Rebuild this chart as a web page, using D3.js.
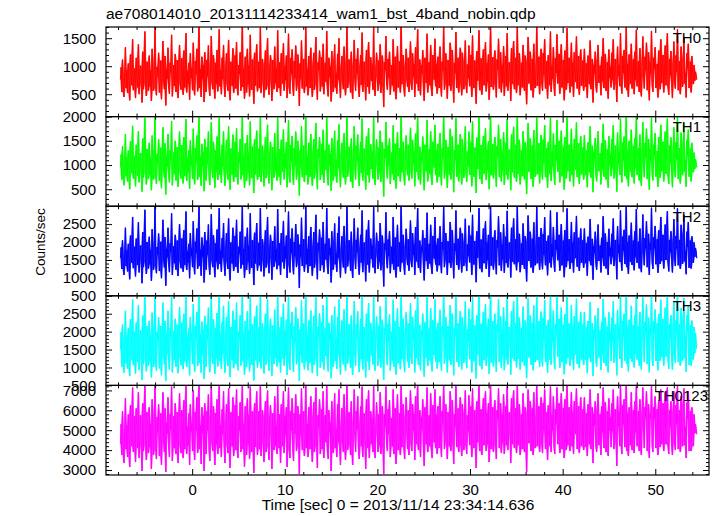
<!DOCTYPE html>
<html><head><meta charset="utf-8">
<script src="https://cdn.jsdelivr.net/npm/d3@7"></script>
<style>
body{margin:0;background:#fff}
svg{display:block}
text{font-family:"Liberation Sans",Arial,Helvetica,sans-serif;fill:#000}
</style>
</head><body><svg id="c" width="717" height="516"></svg>
<script>
const title = "ae708014010_20131114233414_wam1_bst_4band_nobin.qdp";
const xLabel = "Time [sec] 0 = 2013/11/14 23:34:14.636";
const yLabel = "Counts/sec";
const panelNames = ["TH0","TH1","TH2","TH3","TH0123"];
const panelColors = ["#ff0000","#00ff00","#0000ff","#00ffff","#ff00ff"];
const yDomains = [[100,1700],[150,2000],[500,3000],[500,3000],[2750,7250]];
const yMajor = [[500,1000,1500],[500,1000,1500,2000],[500,1000,1500,2000,2500],[500,1000,1500,2000,2500],[3000,4000,5000,6000,7000]];
const yMinorStep = [100,100,100,100,200];
const xDomain = [-9.3, 55.8];
const xMajor = [0,10,20,30,40,50];
const xMinorStep = 2;
const tStart = -7.75, tEnd = 54.5;

const th0 = [
760,980,540,1120,690,450,870,1340,610,930,520,1050,780,390,1210,840,660,1480,570,720,960,430,1150,810,620,1390,500,880,1010,700,350,1260,590,940,1620,680,470,1080,830,560,
1190,640,920,380,1310,750,560,1030,1700,610,480,990,820,1240,530,690,1100,410,870,1450,720,590,1180,300,950,780,1330,620,510,1060,880,1560,460,740,1020,650,1220,540,830,1110,
430,970,1380,700,580,1140,850,490,1280,620,760,1590,530,910,680,1060,400,1230,790,960,570,1420,710,480,1090,860,1310,550,670,1750,610,940,450,1170,780,1020,360,1250,690,540,
1110,820,1370,600,470,1000,1540,730,590,1200,880,420,1060,690,1290,550,810,1660,640,930,500,1150,770,1380,620,450,980,1230,700,560,1470,830,390,1080,910,650,1320,520,760,1190,
600,1430,710,480,1020,860,1250,560,690,1810,630,950,420,1170,790,530,1310,680,1010,460,1560,740,580,1120,890,330,1240,650,970,1390,550,800,1080,610,1690,520,880,1130,720,440,
1020,1280,580,850,1500,660,490,990,1200,740,380,1110,830,590,1350,700,960,540,1640,800,610,1070,470,1230,880,690,1410,560,1000,750,1190,430,920,1580,640,510,1140,860,1300,620,
470,1090,790,1370,560,680,1210,920,290,1050,770,1460,600,890,1130,520,730,1710,640,950,480,1180,840,610,1330,710,450,1010,1240,580,860,1520,680,400,1070,930,1280,550,790,1160,
640,1400,500,870,1060,720,1630,590,460,1150,810,990,370,1270,700,540,1090,1390,620,880,510,1220,760,1500,660,430,970,1180,730,590,1350,850,480,1040,1780,610,720,1120,900,530,
1260,690,420,1010,1470,780,560,1130,870,1320,600,450,990,1200,670,1600,540,830,1080,710,390,1290,920,630,1430,510,800,1160,740,1030,580,1700,650,470,950,1240,820,560,1100,690,
1390,520,880,1190,640,270,1070,930,1540,700,580,1130,800,1260,490,720,1020,660,1480,550,910,1170,410,840,1360,620,740,1090,530,1820,680,850,1200,590,460,1010,1310,770,630,1150,
540,960,1440,710,580,1230,820,1030,450,1340,690,900,1660,560,760,1120,480,1010,870,1290,620,380,1150,940,700,1580,530,820,1070,660,1380,590,470,1200,910,760,1490,640,1040,510,
1170,800,610,1350,720,460,1080,920,1720,580,690,1230,850,420,1110,1000,650,1420,560,780,1290,690,350,1060,880,1610,610,740,1150,530,960,1330,700,480,1240,820,590,1090,1460,670,
520,1030,790,1370,640,890,1200,450,1550,700,610,1100,860,330,1270,740,980,1640,570,830,1140,490,910,1300,660,780,1430,550,1050,720,1210,400,870,1740,630,990,1160,580,760,1280,
690,440,1120,940,1490,600,810,1250,530,1020,710,1360,470,880,1180,640,1590,560,740,1070,920,380,1320,680,1010,1450,590,820,1150,520,1700,660,900,1230,480,770,1060,620,1380,730,
560,1190,870,320,1080,1520,690,930,1260,570,800,1130,440,1400,720,610,1000,1770,650,850,1170,500,960,1310,700,560,1230,840,1480,600,730,1090,420,1200,920,660,1620,540,1010,780,
1340,630,470,1140,880,1570,690,790,1220,510,1000,1390,620,860,1110,390,1280,740,580,1680,700,940,1150,530,830,1420,640,1060,450,1250,890,720,1530,600,980,1180,490,870,1300,650,
740,1100,560,1310,820,630,1050,430,1190,900,680,1460,590,780,1130,350,1020,870,1260,640,530,1090,1380,700,820,1010,480,1170,740,1500,610,900,1220,560,690,1070,420,1300,800,980,
620,1240,760,1480,580,920,1130,690,360,1350,830,1020,640,1590,710,510,1180,880,1290,620,760,1700,570,1040,450,1210,830,690,1400,600,950,1120,500,1260,760,1650,640,880,1090,540,
1320,700,460,1060,1530,820,600,1170,920,1420,570,780,1250,390,1070,860,1630,650,540,1150,960,1340,610,720,1040,440,1280,810,590,1480,700,960,1200,530,880,1370,660,1010,1590,610,
490,1130,840,1270,680,430,1050,1440,720,600,1190,910,1660,570,800,1090,500,1350,740,630,1120,1520,690,880,440,1230,960,1400,610,760,1080,530,1180,870,680,1020,740,900,820,760];

const th1 = [
950,1220,700,1390,860,580,1080,1640,770,1150,660,1300,980,500,1490,1040,830,1810,720,900,1190,560,1420,1010,780,1700,640,1090,1250,880,450,1550,740,1170,1980,850,600,1330,1030,710,
1460,800,1140,480,1610,940,700,1270,2060,760,610,1230,1020,1530,670,860,1360,520,1080,1780,900,740,1450,390,1180,970,1640,780,640,1310,1090,1910,580,920,1260,820,1500,680,1040,1370,
550,1200,1690,880,720,1410,1060,620,1580,780,950,1950,670,1130,850,1310,510,1510,990,1190,710,1750,890,600,1350,1070,1610,690,840,2080,760,1160,570,1440,970,1260,460,1540,860,680,
1370,1020,1690,750,590,1240,1890,910,740,1480,1090,530,1310,860,1590,690,1010,2010,800,1150,630,1420,960,1700,780,570,1210,1520,870,700,1800,1040,490,1340,1130,810,1630,650,950,1470,
750,1760,890,600,1260,1070,1540,700,860,2090,790,1180,530,1450,990,670,1620,850,1250,580,1900,920,730,1380,1100,420,1530,810,1200,1710,690,1000,1340,760,2040,650,1100,1400,900,560,
1270,1580,730,1060,1830,820,620,1230,1480,920,480,1370,1030,740,1660,870,1190,680,2000,1000,760,1330,590,1520,1090,860,1740,700,1240,940,1470,540,1150,1930,800,640,1410,1070,1600,780,
590,1350,980,1690,700,850,1500,1140,370,1300,960,1800,750,1110,1400,650,910,2070,800,1180,600,1460,1040,760,1640,880,570,1250,1530,720,1070,1870,850,500,1330,1160,1580,690,990,1430,
800,1730,630,1080,1310,900,1990,740,580,1420,1010,1230,470,1560,870,680,1350,1710,770,1090,640,1510,950,1840,820,540,1200,1460,910,740,1660,1060,600,1290,2080,760,900,1380,1120,660,
1550,860,530,1250,1800,970,700,1400,1080,1630,750,570,1230,1480,840,1960,680,1030,1340,890,490,1590,1140,790,1760,640,1000,1430,920,1280,720,2050,810,590,1180,1530,1020,700,1360,860,
1710,650,1090,1470,800,350,1330,1150,1890,870,720,1400,990,1550,610,900,1260,820,1820,690,1130,1440,510,1040,1680,770,920,1350,660,2090,850,1060,1480,740,580,1250,1610,960,790,1420,
680,1190,1770,890,720,1520,1020,1280,560,1650,860,1120,2020,700,950,1380,600,1250,1080,1590,770,480,1420,1170,870,1930,660,1020,1320,820,1700,740,590,1480,1130,950,1830,800,1290,640,
1440,1000,760,1660,900,580,1340,1140,2070,720,860,1520,1060,530,1370,1240,810,1750,700,970,1590,860,440,1310,1100,1970,760,920,1420,660,1190,1640,870,600,1530,1020,740,1350,1800,840,
650,1280,990,1690,800,1110,1480,560,1900,870,760,1360,1070,420,1570,920,1220,2010,710,1030,1410,610,1130,1600,820,970,1760,690,1300,900,1490,500,1080,2060,790,1230,1430,720,950,1580,
860,550,1390,1170,1830,750,1010,1540,660,1260,880,1680,590,1100,1460,800,1950,700,920,1320,1140,480,1630,850,1250,1790,740,1020,1420,650,2040,820,1120,1520,600,960,1310,770,1700,910,
700,1470,1080,400,1340,1870,860,1160,1550,710,1000,1400,550,1720,900,760,1240,2080,810,1060,1450,620,1190,1620,870,700,1520,1050,1820,750,910,1350,530,1480,1140,820,1980,670,1250,970,
1650,790,590,1410,1100,1930,860,980,1500,640,1240,1710,770,1070,1380,490,1580,920,720,2040,870,1170,1420,660,1030,1750,800,1310,560,1540,1110,900,1880,750,1220,1450,610,1080,1600,810,
920,1360,700,1620,1020,790,1300,540,1470,1120,850,1800,740,970,1400,440,1270,1080,1560,800,660,1350,1700,870,1020,1250,600,1450,920,1850,760,1120,1510,700,860,1320,530,1600,1000,1220,
770,1530,950,1820,720,1150,1400,860,450,1670,1030,1260,800,1960,890,640,1460,1100,1590,770,950,2060,710,1290,560,1500,1030,860,1730,750,1180,1390,620,1560,950,2010,800,1090,1350,680,
1630,870,570,1310,1890,1020,750,1450,1140,1750,710,970,1540,490,1320,1070,2000,810,680,1420,1190,1660,760,900,1290,550,1580,1010,740,1830,870,1200,1480,660,1100,1690,820,1250,1960,760,
610,1400,1050,1570,850,540,1300,1780,900,750,1470,1130,2030,710,1000,1350,620,1670,920,790,1390,1870,860,1090,550,1520,1190,1730,760,950,1340,660,1460,1080,850,1260,920,1120,1010,950];

const th2 = [
1550,1850,1250,2050,1420,1080,1640,2400,1330,1760,1180,1950,1590,960,2180,1700,1420,2700,1270,1500,1870,1040,2100,1650,1360,2550,1150,1690,1900,1480,850,2280,1300,1800,2900,1440,1110,2000,1660,1260,
2150,1380,1770,920,2360,1560,1230,1930,3000,1330,1130,1860,1650,2240,1190,1450,2010,990,1700,2620,1510,1290,2140,780,1810,1580,2400,1380,1160,1960,1720,2800,1080,1530,1880,1410,2200,1230,1660,2040,
1050,1830,2500,1480,1270,2100,1690,1170,2330,1360,1560,2850,1220,1740,1430,1950,990,2250,1610,1820,1300,2580,1500,1100,2010,1700,2380,1250,1450,3000,1330,1780,1060,2130,1590,1890,870,2280,1470,1230,
2040,1650,2490,1320,1090,1870,2780,1500,1300,2190,1720,1020,1960,1460,2350,1240,1640,2950,1390,1760,1170,2110,1570,2530,1350,1060,1820,2250,1480,1250,2660,1670,930,1990,1740,1400,2400,1190,1560,2170,
1310,2620,1510,1140,1870,1690,2290,1260,1480,3000,1370,1800,1000,2150,1600,1220,2400,1450,1890,1110,2800,1540,1280,2050,1720,800,2260,1400,1840,2530,1200,1620,1980,1350,2950,1180,1700,2080,1500,1040,
1910,2330,1290,1680,2700,1430,1130,1840,2200,1560,950,2030,1640,1310,2440,1470,1790,1240,2920,1620,1350,1970,1080,2250,1730,1440,2590,1260,1880,1550,2180,1000,1750,2850,1390,1150,2090,1700,2380,1340,
1100,2000,1600,2500,1300,1440,2210,1800,720,1930,1580,2680,1330,1710,2080,1170,1520,3000,1380,1800,1140,2160,1650,1330,2420,1490,1060,1860,2280,1280,1690,2760,1430,960,1980,1760,2350,1200,1600,2120,
1360,2560,1160,1660,1950,1510,2950,1290,1110,2100,1640,1830,870,2300,1460,1230,2010,2520,1380,1700,1170,2250,1560,2710,1420,1010,1780,2160,1540,1290,2450,1690,1120,1900,3000,1320,1500,2050,1790,1200,
2290,1450,1000,1850,2660,1580,1250,2060,1720,2400,1340,1090,1830,2200,1430,2880,1160,1660,1990,1480,900,2340,1740,1370,2610,1150,1600,2100,1530,1900,1290,2980,1400,1130,1780,2260,1680,1250,2020,1450,
2530,1210,1740,2180,1390,760,1960,1790,2830,1470,1270,2070,1610,2310,1130,1520,1870,1400,2700,1230,1800,2130,1010,1710,2480,1320,1540,1990,1170,3000,1430,1730,2200,1340,1090,1860,2370,1600,1360,2080,
1200,1900,2600,1490,1300,2250,1650,1930,1080,2420,1460,1800,2950,1280,1600,2040,1140,1880,1720,2330,1380,930,2110,1750,1470,2820,1250,1690,1950,1400,2480,1300,1110,2170,1800,1540,2700,1370,1920,1180,
2100,1640,1350,2440,1520,1130,2000,1790,3000,1300,1510,2250,1720,1080,2020,1900,1420,2560,1280,1620,2330,1480,990,1960,1760,2880,1360,1540,2090,1230,1810,2400,1500,1150,2240,1670,1330,1980,2650,1440,
1190,1930,1620,2460,1430,1800,2180,1080,2760,1500,1370,2030,1710,880,2300,1560,1860,2950,1260,1690,2070,1160,1770,2380,1410,1600,2580,1250,1980,1500,2200,1030,1680,3000,1340,1840,2130,1230,1590,2330,
1450,1100,2050,1850,2720,1350,1650,2270,1190,1930,1520,2500,1140,1710,2150,1420,2870,1290,1560,1990,1800,1010,2400,1450,1910,2660,1380,1670,2080,1210,2990,1440,1780,2230,1160,1590,1960,1360,2520,1530,
1250,2160,1710,900,2010,2740,1470,1770,2290,1290,1670,2090,1140,2550,1530,1350,1880,3000,1410,1700,2140,1220,1800,2390,1470,1240,2220,1640,2690,1350,1520,2030,1070,2180,1780,1420,2880,1290,1940,1600,
2420,1390,1170,2060,1790,2830,1490,1580,2200,1200,1930,2500,1350,1670,2040,1020,2330,1540,1300,2940,1470,1830,2080,1250,1650,2560,1420,1980,1150,2270,1770,1550,2730,1310,1890,2120,1190,1720,2380,1420,
1530,2050,1280,2380,1640,1410,1970,1060,2150,1790,1470,2640,1350,1580,2090,950,1880,1700,2290,1400,1230,2020,2490,1470,1660,1900,1150,2120,1560,2720,1330,1780,2240,1260,1470,2000,1080,2370,1620,1840,
1380,2230,1600,2660,1330,1800,2060,1520,960,2440,1700,1940,1440,2880,1520,1200,2150,1760,2340,1390,1630,3000,1300,1980,1110,2180,1680,1450,2540,1360,1880,2040,1210,2300,1590,2920,1420,1720,2010,1260,
2380,1490,1160,1990,2770,1700,1350,2110,1820,2580,1300,1610,2230,1080,1960,1780,2960,1420,1250,2130,1830,2450,1380,1590,2080,1140,2330,1680,1390,2700,1480,1930,2200,1260,1850,2490,1500,2000,2860,1410,
1180,2060,1720,2300,1480,1150,2010,2640,1540,1330,2170,1820,2940,1350,1630,2060,1250,2480,1720,1390,2190,2750,1460,1740,1100,2290,1860,2560,1280,1580,2040,1260,2160,1710,1420,1990,1590,1830,1700,1550];

const th3 = [
1500,1980,1020,2200,1250,850,1760,2580,1120,1880,960,2100,1450,760,2350,1820,1220,2900,1060,1330,2000,820,2260,1770,1150,2740,930,1810,2040,1280,650,2450,1090,1930,3100,1240,890,2150,1780,1050,
2300,1180,1900,720,2530,1370,1010,2070,3150,1120,910,1990,1760,2400,970,1250,2160,780,1830,2810,1320,1080,2300,620,1940,1390,2580,1180,940,2100,1840,3000,860,1340,2020,1210,2360,1020,1780,2190,
840,1960,2690,1290,1060,2250,1810,950,2500,1160,1370,3050,1010,1860,1230,2090,780,2410,1730,1950,1100,2770,1310,880,2150,1820,2550,1040,1260,3160,1130,1910,850,2280,1400,2030,680,2440,1280,1020,
2190,1770,2670,1120,870,2000,2980,1310,1100,2350,1840,820,2100,1270,2520,1030,1760,3140,1190,1890,960,2260,1390,2720,1150,850,1950,2410,1290,1040,2850,1790,730,2130,1870,1200,2580,980,1370,2320,
1100,2810,1320,920,2000,1810,2460,1050,1290,3180,1170,1930,790,2300,1720,1010,2570,1260,2020,890,3000,1350,1070,2200,1840,640,2420,1200,1970,2720,990,1740,2120,1150,3150,970,1820,2230,1310,830,
2050,2500,1080,1800,2900,1230,910,1970,2360,1370,760,2170,1760,1100,2610,1280,1920,1030,3120,1740,1150,2110,860,2410,1850,1250,2780,1050,2010,1360,2330,790,1880,3060,1190,930,2240,1820,2550,1130,
880,2140,1710,2680,1090,1240,2370,1930,620,2070,1390,2870,1130,1830,2230,950,1330,3170,1180,1930,920,2310,1770,1130,2590,1300,840,1990,2440,1070,1810,2960,1230,760,2120,1880,2520,990,1710,2270,
1160,2740,940,1780,2090,1320,3150,1080,890,2250,1760,1960,700,2460,1270,1020,2150,2700,1180,1820,960,2410,1370,2900,1220,800,1910,2310,1350,1080,2620,1810,900,2030,3190,1110,1310,2200,1920,990,
2450,1250,790,1980,2850,1390,1040,2200,1840,2570,1140,870,1960,2360,1230,3080,940,1780,2130,1290,710,2500,1860,1170,2800,930,1710,2250,1340,2030,1080,3160,1200,910,1900,2420,1800,1040,2160,1250,
2710,1000,1860,2330,1190,650,2100,1920,3030,1280,1060,2220,1720,2480,910,1330,2000,1200,2890,1020,1930,2280,800,1830,2650,1120,1350,2130,950,3170,1230,1850,2360,1140,870,1990,2540,1710,1160,2230,
990,2040,2790,1300,1100,2410,1770,2070,860,2590,1260,1930,3160,1070,1720,2190,920,2010,1840,2500,1180,740,2260,1870,1270,3020,1040,1810,2090,1200,2660,1090,890,2320,1930,1350,2900,1170,2060,970,
2250,1760,1150,2610,1330,910,2140,1920,3180,1100,1320,2410,1840,860,2160,2040,1220,2740,1070,1740,2500,1290,780,2100,1890,3080,1160,1350,2240,1020,1940,2570,1310,940,2400,1790,1130,2120,2840,1240,
980,2070,1740,2640,1230,1930,2340,860,2960,1310,1170,2180,1830,690,2460,1370,1990,3150,1050,1810,2220,950,1900,2550,1210,1720,2770,1040,2120,1310,2360,820,1800,3170,1140,1970,2290,1020,1700,2500,
1250,880,2200,1990,2910,1150,1770,2430,980,2070,1330,2680,920,1830,2300,1220,3080,1080,1680,2130,1930,800,2570,1260,2040,2850,1180,1790,2230,1000,3170,1240,1910,2390,940,1700,2100,1160,2700,1340,
1040,2310,1840,700,2150,2930,1280,1900,2450,1080,1790,2240,920,2730,1340,1150,2010,3190,1210,1820,2290,1010,1930,2560,1280,1030,2380,1760,2880,1150,1330,2170,850,2330,1900,1220,3080,1080,2080,1720,
2590,1190,950,2210,1920,3020,1300,1690,2360,990,2070,2680,1150,1790,2190,810,2490,1350,1100,3140,1280,1960,2230,1040,1770,2740,1220,2120,930,2430,1900,1360,2920,1100,2020,2270,980,1840,2550,1220,
1340,2200,1070,2550,1760,1210,2110,840,2300,1920,1280,2830,1150,1690,2240,760,2020,1820,2450,1200,1020,2170,2660,1280,1780,2040,930,2270,1370,2910,1130,1900,2400,1050,1280,2140,860,2540,1740,1970,
1180,2390,1720,2850,1130,1930,2200,1330,780,2610,1820,2080,1240,3090,1330,990,2300,1880,2500,1190,1750,3180,1100,2120,890,2330,1800,1250,2720,1160,2010,2180,1000,2460,1400,3130,1220,1840,2150,1050,
2550,1300,940,2130,2960,1820,1150,2260,1950,2760,1100,1730,2390,860,2100,1910,3170,1220,1040,2280,1960,2620,1180,1400,2230,920,2490,1800,1190,2890,1290,2070,2350,1050,1980,2670,1310,2140,3060,1210,
960,2210,1840,2460,1290,930,2150,2830,1350,1130,2320,1950,3150,1150,1750,2210,1040,2660,1840,1190,2340,2940,1270,1860,880,2450,1990,2740,1070,1390,2180,1050,2310,1830,1220,2130,1400,1960,1520,1650];

const th0123 = [
4300,5300,3750,5950,4250,3350,4950,6600,4050,5250,3650,5800,4800,3150,6250,5100,4200,7150,3900,4400,5700,3400,6100,5000,4100,6900,3600,5050,5750,4300,2950,6350,3950,5600,7250,4250,3500,5900,4950,3850,
6150,4150,5300,3050,6550,4800,3750,5750,7300,4000,3550,5650,4900,6300,3700,4300,5850,3250,5100,6900,4400,3900,6100,2900,5350,4850,6650,4150,3650,5800,5050,7200,3450,4400,5700,4100,6350,3800,5000,5900,
3350,5350,6850,4300,3850,6000,5050,3600,6500,4050,4800,7250,3800,5150,4250,5850,3250,6300,4950,5350,3950,7000,4400,3500,5900,5000,6650,3850,4300,7300,4050,5250,3300,6150,4850,5700,2950,6350,4300,3800,
5950,5000,6800,4000,3450,5650,7200,4400,3950,6200,5150,3250,5850,4300,6550,3800,4950,7300,4100,5250,3650,6050,4800,6950,4050,3350,5350,6300,4350,3850,7100,5100,3100,5900,5200,4200,6650,3700,4800,6250,
4000,7050,4400,3600,5700,5000,6400,3900,4350,7300,4050,5300,3150,6200,4850,3750,6600,4300,5750,3550,7200,4800,3900,5950,5150,2850,6350,4150,5600,6950,3750,4950,5950,4050,7250,3700,5100,6000,4400,3400,
5700,6450,3900,4950,7000,4200,3500,5600,6250,4800,3050,5850,4950,4000,6700,4250,5250,3800,7250,4950,4100,5800,3350,6300,5150,4200,6950,3850,5700,4800,6150,3150,5100,7150,4100,3600,5950,5000,6600,4000,
3450,5850,4850,6800,3950,4250,6200,5300,2800,5800,4800,7100,4000,5100,5950,3700,4400,7300,4100,5300,3650,6150,4950,4050,6700,4300,3400,5650,6400,3900,5050,7150,4200,3100,5750,5150,6550,3800,4850,6050,
4050,6950,3600,4950,5750,4400,7250,3950,3550,6000,4900,5350,2950,6450,4250,3850,5800,6850,4100,5050,3650,6300,4400,7050,4150,3250,5200,6100,4400,3900,6800,5000,3500,5600,7300,4000,4300,5900,5200,3750,
6450,4200,3250,5350,7050,4800,3900,5950,5050,6700,4050,3550,5300,6200,4200,7200,3650,4950,5850,4350,3050,6550,5100,4100,7000,3600,4800,5950,4300,5600,3900,7250,4150,3600,5200,6400,4950,3900,5800,4250,
6900,3800,5100,6200,4150,2800,5800,5200,7200,4300,3950,6050,4850,6500,3650,4350,5600,4200,7050,3800,5300,6100,3300,5050,6800,4000,4400,5850,3750,7300,4150,5100,6300,4050,3550,5650,6650,4850,4050,6000,
3750,5700,7000,4350,3950,6300,5000,5800,3500,6700,4300,5300,7250,4000,4950,6000,3650,5650,5100,6550,4100,3200,6150,5200,4300,7150,3900,5050,5750,4200,6850,4000,3600,6250,5350,4400,7050,4100,5750,3800,
6200,5050,4100,6700,4400,3650,5950,5350,7300,4050,4400,6300,5150,3550,5900,5700,4200,6950,3950,4950,6500,4300,3300,5800,5200,7250,4150,4800,6100,3900,5350,6650,4300,3700,6300,5050,4000,5850,7000,4250,
3800,5750,4950,6750,4250,5250,6200,3650,7100,4350,4100,6000,5100,3100,6450,4400,5650,7250,3950,5100,6050,3750,5300,6600,4250,4900,6950,3950,5850,4300,6350,3400,5150,7300,4050,5600,6150,3900,4850,6500,
4250,3550,6000,5600,7100,4100,5050,6350,3850,5750,4350,6800,3800,5200,6200,4250,7200,4000,4800,5900,5300,3350,6600,4300,5700,7000,4100,5100,6100,3850,7300,4250,5250,6300,3750,4850,5800,4050,6850,4400,
3900,6150,5200,2900,5850,7050,4350,5250,6450,3950,5100,6100,3750,6900,4800,4100,5650,7300,4200,5150,6200,3900,5300,6650,4300,3850,6350,5000,7050,4050,4400,5900,3500,6250,5250,4200,7200,3900,5750,5000,
6700,4150,3800,6050,5350,7150,4300,4900,6350,3850,5800,6850,4050,5150,6100,3600,6550,4400,4000,7250,4250,5600,6150,3950,5150,6900,4200,5900,3800,6450,5300,4800,7100,4050,5700,6200,3850,5250,6650,4200,
4400,6050,4000,6650,5000,4150,5850,3700,6300,5600,4300,7050,4050,4900,6150,3350,5800,5250,6450,4200,3900,6000,6850,4250,5100,5800,3750,6200,4900,7150,4100,5350,6400,3900,4350,5950,3700,6600,5000,5650,
4150,6350,4950,7050,4050,5350,6050,4400,3200,6700,5200,5900,4200,7250,4400,3800,6250,5300,6550,4150,5000,7300,3950,5850,3700,6150,5250,4250,6900,4000,5650,6000,3850,6450,4900,7200,4200,5200,5950,3950,
6550,4300,3750,5850,7150,5150,4100,6150,5650,6950,3950,4950,6300,3600,5800,5600,7250,4200,3900,6150,5600,6700,4100,4950,6050,3750,6500,5100,4150,7050,4300,5700,6350,3950,5350,6900,4300,5800,7150,4150,
3800,6000,5200,6450,4250,3750,5900,6950,4350,4000,6250,5300,7250,4050,4950,6000,3900,6700,5200,4200,6300,7100,4250,5150,3600,6400,5600,6950,3950,4850,5950,3950,6150,5200,4200,5800,4850,5300,5000,4800];

const series = [th0, th1, th2, th3, th0123];

// ---- layout ----
const L = 106, R = 709, T = 27, B = 475;
const nP = 5, pH = (B - T) / nP;

const svg = d3.select("#c");
const x = d3.scaleLinear().domain(xDomain).range([L, R]);
const xMinor = d3.range(Math.ceil(xDomain[0] / xMinorStep) * xMinorStep, xDomain[1], xMinorStep)
  .filter(v => !xMajor.includes(v));

const defs = svg.append("defs");
const FONT = "Liberation Sans, Arial, sans-serif";

series.forEach((vals, p) => {
  const top = T + p * pH, bot = top + pH;
  const y = d3.scaleLinear().domain(yDomains[p]).range([bot, top]);
  const g = svg.append("g");

  defs.append("clipPath").attr("id", "clip" + p)
    .append("rect").attr("x", L).attr("y", top).attr("width", R - L).attr("height", pH);

  const n = vals.length;
  const tScale = d3.scaleLinear().domain([0, n - 1]).range([tStart, tEnd]);

  // vertical extent swept by the dense trace around each sample
  const spans = vals.map((v, i) => {
    const w = vals.slice(Math.max(0, i - 1), Math.min(n, i + 2));
    return { i, lo: d3.min(w), hi: d3.max(w) };
  });
  const area = d3.area()
    .x(d => x(tScale(d.i))).y0(d => y(d.lo)).y1(d => y(d.hi));
  g.append("path").datum(spans)
    .attr("clip-path", "url(#clip" + p + ")")
    .attr("fill", panelColors[p])
    .attr("fill-opacity", 0.8)
    .attr("stroke", "none")
    .attr("d", area);

  const line = d3.line().x((d, i) => x(tScale(i))).y(d => y(d));
  g.append("path").datum(vals)
    .attr("clip-path", "url(#clip" + p + ")")
    .attr("fill", "none")
    .attr("stroke", panelColors[p])
    .attr("stroke-width", 0.9)
    .attr("stroke-linejoin", "bevel")
    .attr("d", line);

  g.append("rect").attr("x", L).attr("y", top).attr("width", R - L).attr("height", pH)
    .attr("fill", "none").attr("stroke", "#000").attr("stroke-width", 1.2);

  const yMinor = d3.range(Math.ceil(yDomains[p][0] / yMinorStep[p]) * yMinorStep[p], yDomains[p][1] + 1e-9, yMinorStep[p])
    .filter(v => !yMajor[p].includes(v));

  const styleAxis = sel => { sel.select(".domain").remove(); sel.selectAll("line").attr("stroke", "#000").attr("stroke-width", 1); };
  const styleText = sel => sel.selectAll("text").attr("font-size", 15).attr("font-family", FONT).attr("fill", "#000");

  g.append("g").attr("transform", `translate(${L},0)`)
    .call(d3.axisLeft(y).tickValues(yMajor[p]).tickSizeInner(-6).tickSizeOuter(0).tickPadding(10).tickFormat(d3.format("d")))
    .call(styleAxis).call(styleText);
  g.append("g").attr("transform", `translate(${L},0)`)
    .call(d3.axisLeft(y).tickValues(yMinor).tickSizeInner(-3).tickSizeOuter(0).tickFormat(""))
    .call(styleAxis);
  g.append("g").attr("transform", `translate(${R},0)`)
    .call(d3.axisRight(y).tickValues(yMajor[p]).tickSizeInner(-6).tickSizeOuter(0).tickFormat(""))
    .call(styleAxis);
  g.append("g").attr("transform", `translate(${R},0)`)
    .call(d3.axisRight(y).tickValues(yMinor).tickSizeInner(-3).tickSizeOuter(0).tickFormat(""))
    .call(styleAxis);
  g.append("g").attr("transform", `translate(0,${top})`)
    .call(d3.axisTop(x).tickValues(xMajor).tickSizeInner(-6).tickSizeOuter(0).tickFormat(""))
    .call(styleAxis);
  g.append("g").attr("transform", `translate(0,${top})`)
    .call(d3.axisTop(x).tickValues(xMinor).tickSizeInner(-3).tickSizeOuter(0).tickFormat(""))
    .call(styleAxis);
  g.append("g").attr("transform", `translate(0,${bot})`)
    .call(d3.axisBottom(x).tickValues(xMajor).tickSizeInner(-6).tickSizeOuter(0).tickPadding(9)
      .tickFormat(p === nP - 1 ? d3.format("d") : ""))
    .call(styleAxis).call(styleText);
  g.append("g").attr("transform", `translate(0,${bot})`)
    .call(d3.axisBottom(x).tickValues(xMinor).tickSizeInner(-3).tickSizeOuter(0).tickFormat(""))
    .call(styleAxis);

  g.append("text").attr("x", p === nP - 1 ? 708 : 701).attr("y", top + 15.5)
    .attr("text-anchor", "end").attr("font-size", 15).text(panelNames[p]);
});

svg.append("text").attr("x", 106).attr("y", 19).attr("font-size", 15.5).text(title);
svg.append("text").attr("x", 398).attr("y", 510).attr("text-anchor", "middle").attr("font-size", 15.5).text(xLabel);
svg.append("text").attr("transform", "translate(45,242) rotate(-90)").attr("text-anchor", "middle").attr("font-size", 13.5).text(yLabel);
</script>
</body></html>
